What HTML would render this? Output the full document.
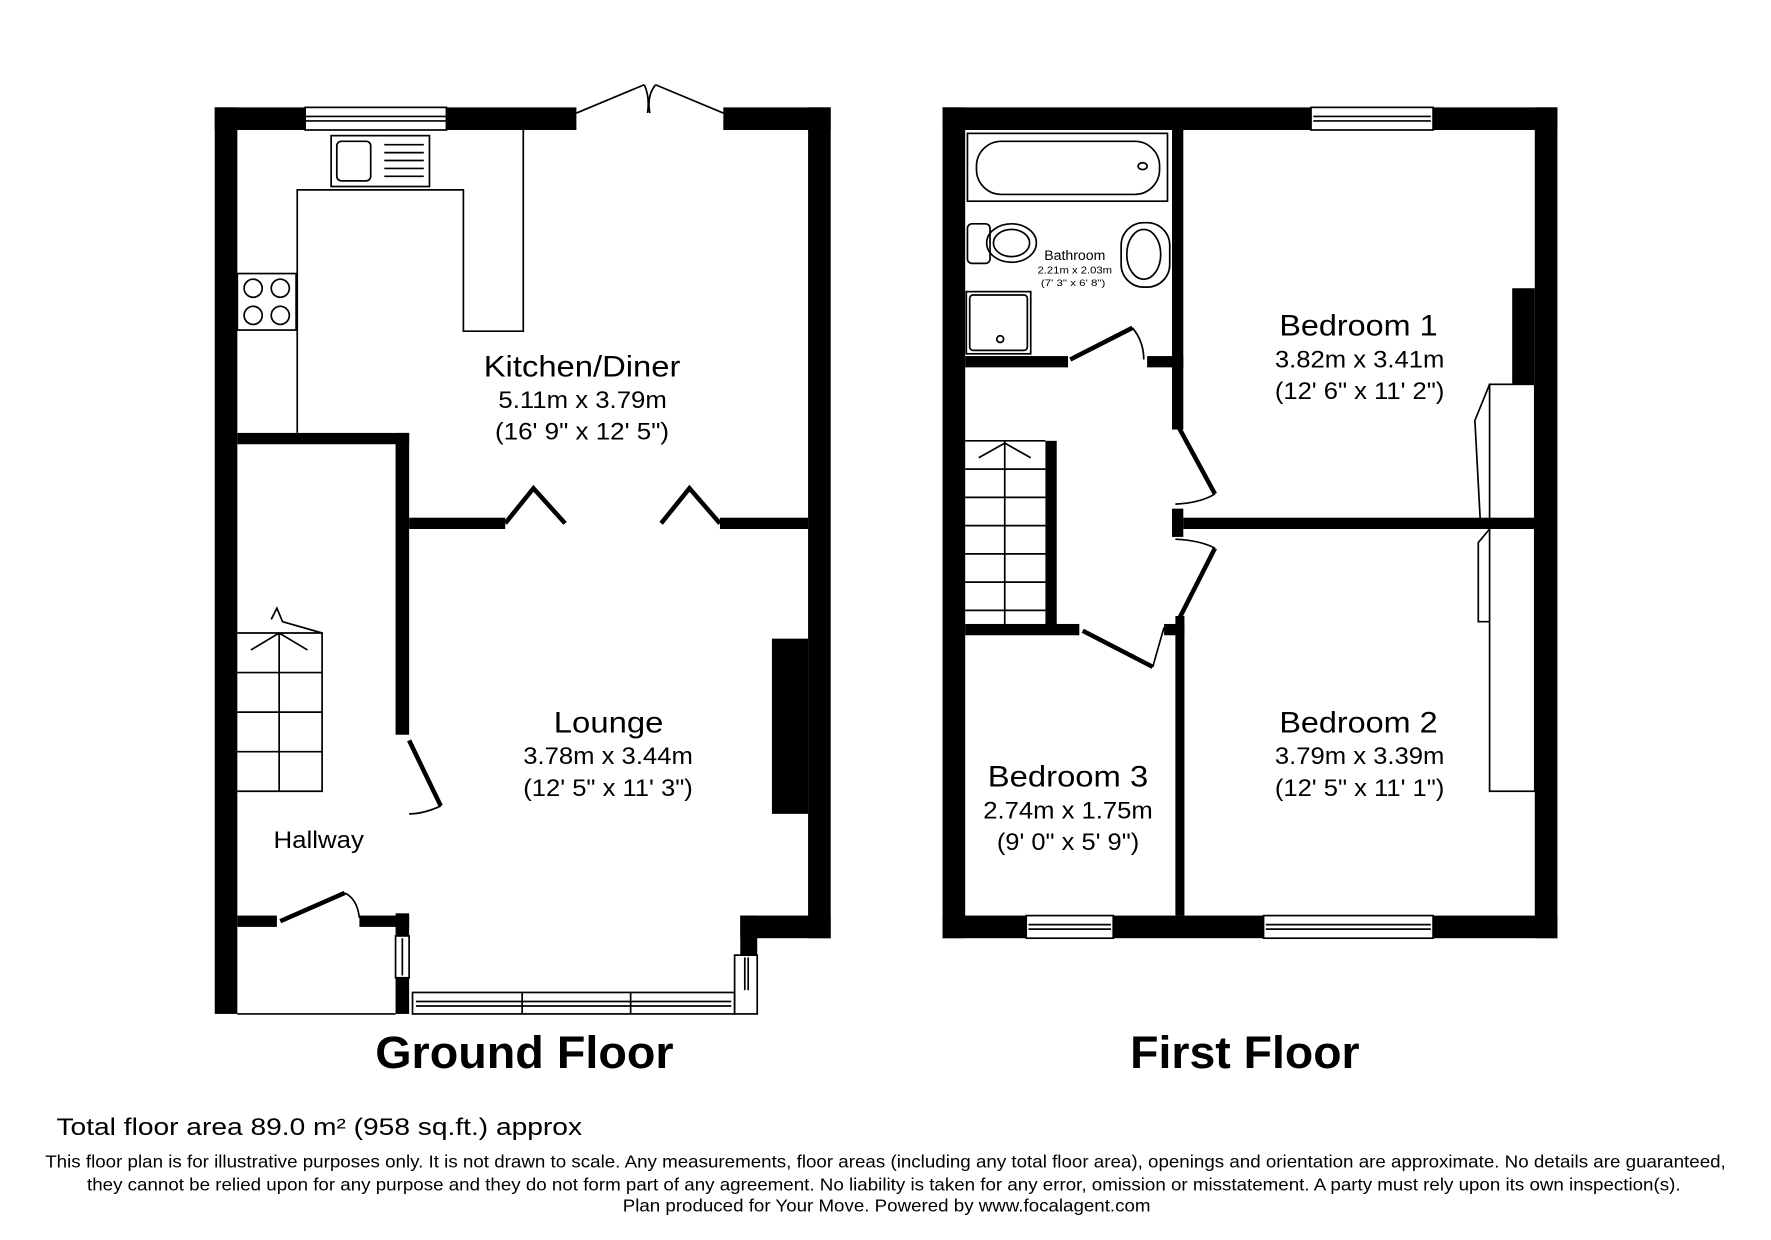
<!DOCTYPE html>
<html><head><meta charset="utf-8"><style>
html,body{margin:0;padding:0;background:#fff;width:1771px;height:1240px;overflow:hidden}
svg{display:block}
text{font-family:"Liberation Sans",sans-serif;fill:#000}
</style></head><body>
<svg width="1771" height="1240" viewBox="0 0 1567 1097" preserveAspectRatio="none" xmlns="http://www.w3.org/2000/svg">
<rect width="1567" height="1097" fill="#fff"/>
<g fill="#000">
<rect x="190" y="95" width="80" height="20"/>
<rect x="395" y="95" width="115" height="20"/>
<rect x="640" y="95" width="95" height="20"/>
<rect x="190" y="95" width="20" height="802"/>
<rect x="715" y="95" width="20" height="735"/>
<rect x="655" y="810" width="80" height="20"/>
<rect x="655" y="810" width="15" height="35"/>
<rect x="683" y="565" width="32" height="155"/>
<rect x="362" y="458" width="85" height="10"/>
<rect x="637" y="458" width="78" height="10"/>
<rect x="210" y="383" width="152" height="10"/>
<rect x="350" y="383" width="12" height="267"/>
<rect x="350" y="808" width="12" height="20"/>
<rect x="350" y="865" width="12" height="32"/>
<rect x="210" y="810" width="35" height="10"/>
<rect x="318" y="810" width="44" height="10"/>
<rect x="834" y="95" width="326" height="20"/>
<rect x="1268" y="95" width="110" height="20"/>
<rect x="834" y="95" width="20" height="735"/>
<rect x="1358" y="95" width="20" height="735"/>
<rect x="834" y="810" width="74" height="20"/>
<rect x="985" y="810" width="133" height="20"/>
<rect x="1268" y="810" width="110" height="20"/>
<rect x="1037" y="115" width="10" height="265"/>
<rect x="854" y="315" width="91" height="10"/>
<rect x="1015" y="315" width="32" height="10"/>
<rect x="1037" y="450" width="10" height="25"/>
<rect x="1047" y="458" width="311" height="10"/>
<rect x="1040" y="545" width="8" height="265"/>
<rect x="1030" y="552" width="18" height="10"/>
<rect x="854" y="552" width="101" height="10"/>
<rect x="925" y="390" width="10" height="165"/>
<rect x="1338" y="255" width="20" height="85"/>
</g>
<g fill="none" stroke="#000" stroke-width="1.5">
<rect x="270" y="95" width="125" height="20"/><line x1="270" y1="103" x2="395" y2="103"/><line x1="270" y1="107" x2="395" y2="107"/>
<rect x="365" y="878" width="285" height="19"/><line x1="462" y1="878" x2="462" y2="897"/><line x1="558" y1="878" x2="558" y2="897"/><line x1="368" y1="886" x2="647" y2="886"/><line x1="368" y1="890" x2="647" y2="890"/>
<rect x="650" y="845" width="20" height="52"/><line x1="659" y1="847" x2="659" y2="876"/><line x1="662" y1="847" x2="662" y2="876"/>
<rect x="350" y="828" width="12" height="37"/><line x1="356" y1="830" x2="356" y2="863"/>
<line x1="210" y1="897" x2="350" y2="897"/>
<path d="M510 100 L570 75 M640 100 L580 75 M570 75 Q575 85 573 100 M580 75 Q572 85 575 100"/>
<path d="M263 383 V168 H410 V293 H463 V115"/>
<rect x="293" y="120" width="87" height="45"/><rect x="298" y="125" width="30" height="35" rx="4"/>
<line x1="340" y1="128" x2="375" y2="128"/><line x1="340" y1="135" x2="375" y2="135"/><line x1="340" y1="142" x2="375" y2="142"/><line x1="340" y1="149" x2="375" y2="149"/><line x1="340" y1="156" x2="375" y2="156"/>
<rect x="210" y="242" width="52" height="50"/>
<circle cx="224" cy="255" r="8"/><circle cx="248" cy="255" r="8"/><circle cx="224" cy="279" r="8"/><circle cx="248" cy="279" r="8"/>
<path d="M210 560 H285 V700 H210 M210 595 H285 M210 630 H285 M210 665 H285 M247 560 V700 M222 575 L247 560 L272 575"/>
<path d="M240 548 L245 538 L250 550 L285 560"/>
<rect x="1160" y="95" width="108" height="20"/><line x1="1162" y1="103" x2="1266" y2="103"/><line x1="1162" y1="107" x2="1266" y2="107"/>
<rect x="908" y="810" width="77" height="20"/><line x1="910" y1="818" x2="983" y2="818"/><line x1="910" y1="822" x2="983" y2="822"/>
<rect x="1118" y="810" width="150" height="20"/><line x1="1120" y1="818" x2="1266" y2="818"/><line x1="1120" y1="822" x2="1266" y2="822"/>
<rect x="856" y="118" width="177" height="60"/><rect x="864" y="125" width="162" height="47" rx="22"/>
<ellipse cx="1011" cy="147" rx="4" ry="3"/>
<rect x="856" y="198" width="20" height="35" rx="4"/><ellipse cx="895" cy="215" rx="22" ry="17"/><ellipse cx="895" cy="215" rx="16" ry="12"/>
<rect x="992" y="197" width="43" height="57" rx="20"/><ellipse cx="1012" cy="225" rx="15" ry="22"/>
<rect x="855" y="258" width="57" height="55"/><rect x="858" y="261" width="51" height="49" rx="3"/><ellipse cx="885" cy="300" rx="3" ry="3"/>
<path d="M854 390 H925 M854 415 H925 M854 440 H925 M854 465 H925 M854 490 H925 M854 515 H925 M854 540 H925 M889 390 V552 M866 405 L889 392 L912 405"/>
<rect x="1318" y="340" width="40" height="360"/><line x1="1318" y1="465" x2="1358" y2="465"/>
<path d="M1318 340 L1305 372 L1310 465 L1318 465 M1318 468 L1308 480 L1308 550 L1318 550"/>
<path d="M1002 290 Q1012 302 1012 318 M1075 437 Q1062 445 1040 446 M1075 485 Q1062 478 1040 477 M1030 555 Q1025 572 1020 590 M318 812 Q316 795 305 790 M390 713 Q375 720 362 720"/>
</g>
<g stroke="#000" stroke-width="4" fill="none">
<line x1="947" y1="318" x2="1002" y2="290"/>
<line x1="1043" y1="378" x2="1075" y2="437"/>
<line x1="1043" y1="548" x2="1075" y2="485"/>
<line x1="958" y1="558" x2="1020" y2="590"/>
<line x1="248" y1="815" x2="305" y2="790"/>
<line x1="362" y1="655" x2="390" y2="713"/>
<path d="M447 463 L472 432 L500 463 M585 463 L610 432 L637 463"/>
</g>
<g>
<text x="428" y="333" font-size="26" textLength="174" lengthAdjust="spacingAndGlyphs">Kitchen/Diner</text>
<text x="441" y="361" font-size="21" textLength="149" lengthAdjust="spacingAndGlyphs">5.11m x 3.79m</text>
<text x="438" y="389" font-size="21" textLength="154" lengthAdjust="spacingAndGlyphs">(16' 9" x 12' 5")</text>
<text x="490" y="648" font-size="26" textLength="97" lengthAdjust="spacingAndGlyphs">Lounge</text>
<text x="463" y="676" font-size="21" textLength="150" lengthAdjust="spacingAndGlyphs">3.78m x 3.44m</text>
<text x="463" y="704" font-size="21" textLength="150" lengthAdjust="spacingAndGlyphs">(12' 5" x 11' 3")</text>
<text x="242" y="750" font-size="21" textLength="80" lengthAdjust="spacingAndGlyphs">Hallway</text>
<text x="924" y="230" font-size="12" textLength="54" lengthAdjust="spacingAndGlyphs">Bathroom</text>
<text x="918" y="242" font-size="9" textLength="66" lengthAdjust="spacingAndGlyphs">2.21m x 2.03m</text>
<text x="921" y="253" font-size="8" textLength="57" lengthAdjust="spacingAndGlyphs">(7' 3" x 6' 8")</text>
<text x="1132" y="297" font-size="26" textLength="140" lengthAdjust="spacingAndGlyphs">Bedroom 1</text>
<text x="1128" y="325" font-size="21" textLength="150" lengthAdjust="spacingAndGlyphs">3.82m x 3.41m</text>
<text x="1128" y="353" font-size="21" textLength="150" lengthAdjust="spacingAndGlyphs">(12' 6" x 11' 2")</text>
<text x="1132" y="648" font-size="26" textLength="140" lengthAdjust="spacingAndGlyphs">Bedroom 2</text>
<text x="1128" y="676" font-size="21" textLength="150" lengthAdjust="spacingAndGlyphs">3.79m x 3.39m</text>
<text x="1128" y="704" font-size="21" textLength="150" lengthAdjust="spacingAndGlyphs">(12' 5" x 11' 1")</text>
<text x="874" y="696" font-size="26" textLength="142" lengthAdjust="spacingAndGlyphs">Bedroom 3</text>
<text x="870" y="724" font-size="21" textLength="150" lengthAdjust="spacingAndGlyphs">2.74m x 1.75m</text>
<text x="882" y="752" font-size="21" textLength="126" lengthAdjust="spacingAndGlyphs">(9' 0" x 5' 9")</text>
<text x="332" y="945" font-size="40" font-weight="bold" textLength="264" lengthAdjust="spacingAndGlyphs">Ground Floor</text>
<text x="1000" y="945" font-size="40" font-weight="bold" textLength="203" lengthAdjust="spacingAndGlyphs">First Floor</text>
<text x="50" y="1004" font-size="21" textLength="465" lengthAdjust="spacingAndGlyphs">Total floor area 89.0 m² (958 sq.ft.) approx</text>
<text x="40" y="1033" font-size="15.5" textLength="1487" lengthAdjust="spacingAndGlyphs">This floor plan is for illustrative purposes only. It is not drawn to scale. Any measurements, floor areas (including any total floor area), openings and orientation are approximate. No details are guaranteed,</text>
<text x="77" y="1053" font-size="15.5" textLength="1410" lengthAdjust="spacingAndGlyphs">they cannot be relied upon for any purpose and they do not form part of any agreement. No liability is taken for any error, omission or misstatement. A party must rely upon its own inspection(s).</text>
<text x="551" y="1072" font-size="15.5" textLength="467" lengthAdjust="spacingAndGlyphs">Plan produced for Your Move. Powered by www.focalagent.com</text>
</g>
</svg>
</body></html>
